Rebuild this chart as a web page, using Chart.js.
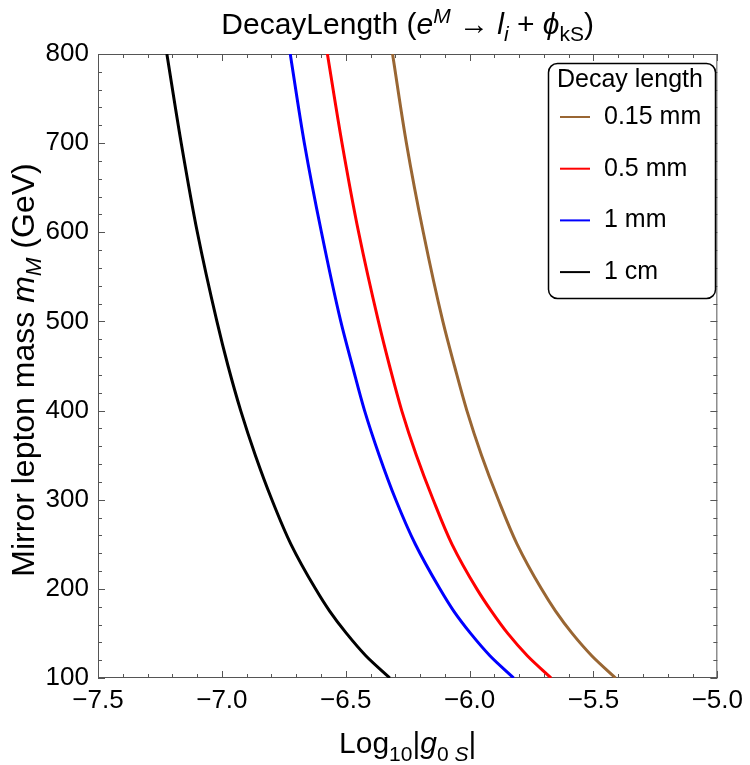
<!DOCTYPE html>
<html>
<head>
<meta charset="utf-8">
<script src="https://cdn.jsdelivr.net/npm/chart.js@4"></script>
<style>
  html, body { margin: 0; padding: 0; background: #fff; }
  #wrap { width: 750px; height: 765px; }
</style>
</head>
<body>
<div id="wrap"><canvas id="decayChart" width="750" height="765"></canvas></div>
<script>
// masses (GeV)
const masses = [100, 125, 150, 175, 200, 250, 300, 350, 400, 450, 500, 600, 700, 800];

// log10|g0S| at those masses
const logG_015mm = [-5.411, -5.507, -5.586, -5.653, -5.710, -5.808, -5.884, -5.952, -6.011, -6.061, -6.108, -6.187, -6.255, -6.311];
const logG_05mm  = [-5.671, -5.767, -5.846, -5.912, -5.971, -6.071, -6.147, -6.215, -6.274, -6.323, -6.368, -6.448, -6.515, -6.574];
const logG_1mm   = [-5.822, -5.918, -5.996, -6.064, -6.120, -6.219, -6.298, -6.365, -6.424, -6.473, -6.520, -6.598, -6.667, -6.724];
const logG_1cm   = [-6.322, -6.419, -6.497, -6.565, -6.622, -6.721, -6.798, -6.865, -6.924, -6.975, -7.020, -7.099, -7.164, -7.222];

const seriesLabels = ['0.15 mm', '0.5 mm', '1 mm', '1 cm'];
const seriesColors = ['#996633', '#ff0000', '#0000ff', '#000000'];
const seriesValues = [logG_015mm, logG_05mm, logG_1mm, logG_1cm];

const xTickMin = -7.5, xTickMax = -5.0, xTickStep = 0.5;
const yTickMin = 100, yTickMax = 800, yTickStep = 100;

const FONT = '"Liberation Sans", Arial, sans-serif';

function pts(xs) {
    return xs.map((x, i) => ({ x: x, y: masses[i] }));
}

// draw a run of text pieces (italic / sub / sup) centred on x
function richWidth(ctx, parts, size) {
    let w = 0;
    parts.forEach(p => {
        const s = size * (p.scale || 1);
        ctx.font = (p.italic ? 'italic ' : '') + s + 'px ' + FONT;
        w += ctx.measureText(p.t).width;
    });
    return w;
}
function drawRich(ctx, parts, x, y, size) {
    const w = richWidth(ctx, parts, size);
    let cx = x - w / 2;
    ctx.textAlign = 'left';
    ctx.textBaseline = 'alphabetic';
    parts.forEach(p => {
        const s = size * (p.scale || 1);
        ctx.font = (p.italic ? 'italic ' : '') + s + 'px ' + FONT;
        ctx.fillText(p.t, cx, y + (p.dy || 0) * size);
        cx += ctx.measureText(p.t).width;
    });
}

const decorPlugin = {
    id: 'decor',
    beforeDatasetsDraw(chart) {
        const ctx = chart.ctx;
        const a = chart.chartArea;
        const xs = chart.scales.x, ys = chart.scales.y;
        ctx.save();
        ctx.strokeStyle = '#555';
        ctx.lineWidth = 1;
        ctx.strokeRect(a.left + 0.5, a.top + 0.5, a.right - a.left - 1, a.bottom - a.top - 1);
        ctx.beginPath();
        // x ticks every 0.1, major every 0.5
        for (let i = 0; i <= 25; i++) {
            const px = Math.round(xs.getPixelForValue(xTickMin + i * 0.1)) + 0.5;
            const len = i % 5 === 0 ? 7 : 4;
            ctx.moveTo(px, a.bottom); ctx.lineTo(px, a.bottom - len);
            ctx.moveTo(px, a.top); ctx.lineTo(px, a.top + len);
        }
        // y ticks every 20, major every 100
        for (let i = 0; i <= 35; i++) {
            const py = Math.round(ys.getPixelForValue(yTickMin + i * 20)) + 0.5;
            const len = i % 5 === 0 ? 7 : 4;
            ctx.moveTo(a.left, py); ctx.lineTo(a.left + len, py);
            ctx.moveTo(a.right, py); ctx.lineTo(a.right - len, py);
        }
        ctx.stroke();
        ctx.restore();
    },
    afterDraw(chart) {
        const ctx = chart.ctx;
        const a = chart.chartArea;
        const midX = (a.left + a.right) / 2;
        ctx.save();
        ctx.fillStyle = '#000';

        // title
        drawRich(ctx, [
            { t: 'DecayLength (' },
            { t: 'e', italic: true },
            { t: 'M', italic: true, scale: 0.7, dy: -0.38 },
            { t: ' \u2192 ' },
            { t: 'l', italic: true },
            { t: 'i', italic: true, scale: 0.7, dy: 0.22 },
            { t: ' + ' },
            { t: '\u03d5', italic: true },
            { t: 'kS', scale: 0.7, dy: 0.22 },
            { t: ')' }
        ], midX, 34, 30);

        // x axis title
        drawRich(ctx, [
            { t: 'Log' },
            { t: '10', scale: 0.7, dy: 0.25 },
            { t: '|' },
            { t: 'g', italic: true },
            { t: '0 ', scale: 0.7, dy: 0.25 },
            { t: 'S', italic: true, scale: 0.7, dy: 0.25 },
            { t: '|' }
        ], midX, 753, 30);

        // y axis title
        ctx.translate(34, (a.top + a.bottom) / 2 + 4);
        ctx.rotate(-Math.PI / 2);
        drawRich(ctx, [
            { t: 'Mirror lepton mass ' },
            { t: 'm', italic: true },
            { t: 'M', italic: true, scale: 0.7, dy: 0.22 },
            { t: ' (GeV)' }
        ], 0, 0, 32);
        ctx.restore();

        // legend box
        ctx.save();
        const bx = 548, by = 63, bw = 167, bh = 235;
        ctx.beginPath();
        ctx.roundRect(bx + 0.5, by + 0.5, bw, bh, 9);
        ctx.fillStyle = '#fff';
        ctx.fill();
        ctx.strokeStyle = '#000';
        ctx.lineWidth = 1.5;
        ctx.stroke();
        ctx.fillStyle = '#000';
        ctx.font = '25px ' + FONT;
        ctx.textAlign = 'left';
        ctx.textBaseline = 'middle';
        ctx.fillText('Decay length', 557, 80);
        chart.data.datasets.forEach((ds, i) => {
            const ly = 117 + i * 51.7;
            ctx.strokeStyle = ds.borderColor;
            ctx.lineWidth = 2;
            ctx.beginPath();
            ctx.moveTo(560, ly); ctx.lineTo(590, ly);
            ctx.stroke();
            ctx.font = '25px ' + FONT;
            ctx.fillText(ds.label, 604, ly);
        });
        ctx.restore();
    }
};

const ctx = document.getElementById('decayChart').getContext('2d');

new Chart(ctx, {
    type: 'line',
    data: {
        datasets: seriesValues.map((vals, i) => ({
            label: seriesLabels[i],
            data: pts(vals),
            borderColor: seriesColors[i],
            backgroundColor: seriesColors[i],
            pointRadius: 0,
            borderWidth: 3,
            fill: false,
            cubicInterpolationMode: 'monotone'
        }))
    },
    options: {
        responsive: false,
        animation: false,
        indexAxis: 'y',
        layout: { padding: { left: 0, right: 27, top: 54, bottom: 0 } },
        plugins: {
            legend: { display: false },
            tooltip: { enabled: false }
        },
        scales: {
            x: {
                type: 'linear',
                position: 'bottom',
                min: xTickMin,
                max: xTickMax,
                grid: { display: false, drawTicks: false },
                border: { display: false },
                ticks: {
                    stepSize: xTickStep,
                    padding: 7,
                    color: '#000',
                    font: { family: FONT, size: 26 },
                    callback: v => v.toFixed(1).replace('-', '\u2212')
                },
                afterFit: s => { s.height = 87; }
            },
            y: {
                type: 'linear',
                position: 'left',
                min: yTickMin,
                max: yTickMax,
                grid: { display: false, drawTicks: false },
                border: { display: false },
                ticks: {
                    stepSize: yTickStep,
                    padding: 9,
                    color: '#000',
                    font: { family: FONT, size: 26 }
                },
                afterFit: s => { s.width = 98; }
            }
        }
    },
    plugins: [decorPlugin]
});
</script>
</body>
</html>
